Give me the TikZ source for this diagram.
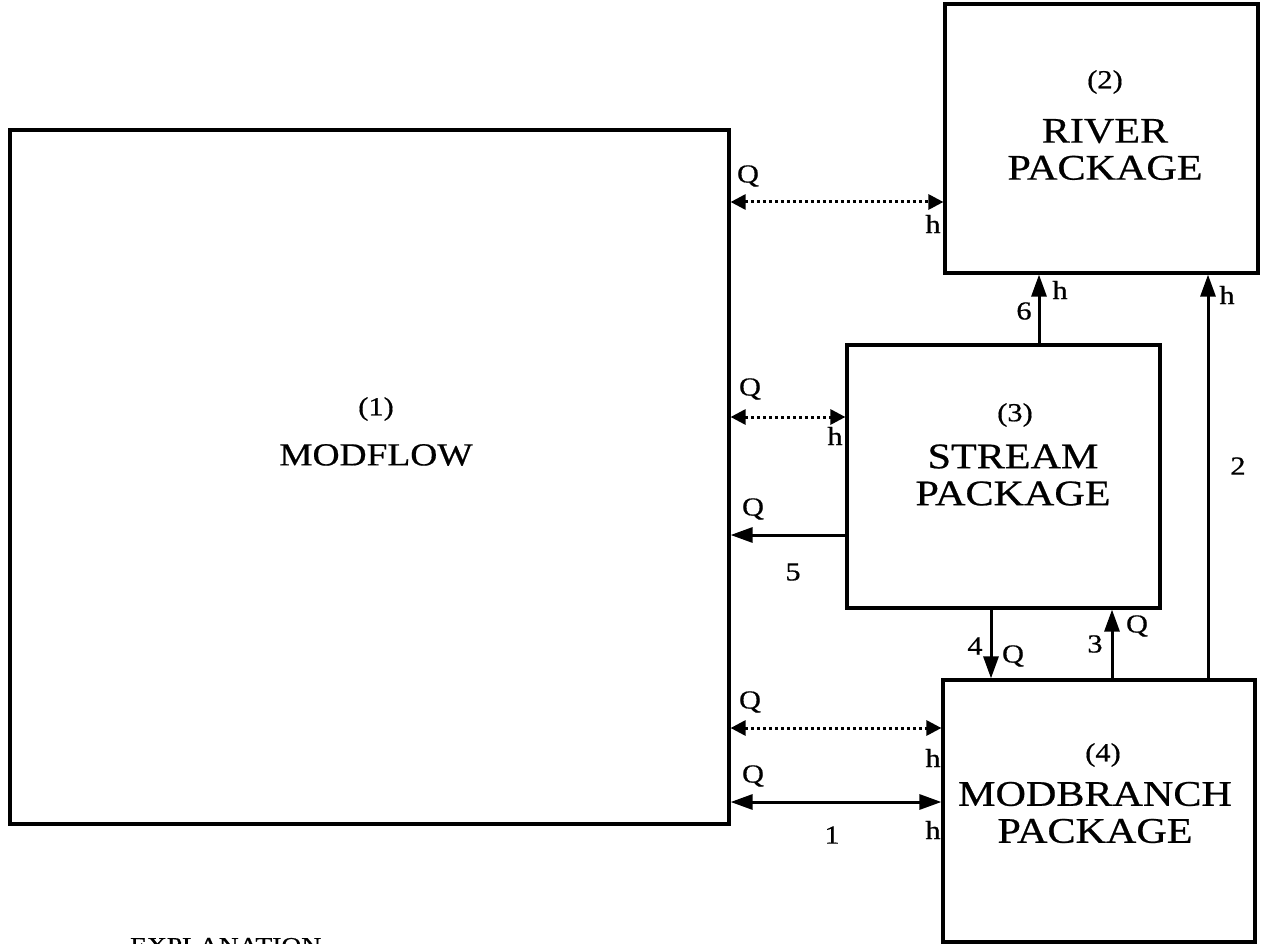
\documentclass[tikz,border=0pt]{standalone}
\usepackage{fontspec}
\setmainfont{Liberation Serif}[FakeStretch=1.17, FakeBold=0.6]
\usetikzlibrary{arrows.meta,calc}

\begin{document}
\begin{tikzpicture}[
  x=1pt, y=-1pt,
  box/.style={draw, line width=3.2pt, inner sep=0pt},
  title/.style={align=center, inner sep=0pt, font=\fontsize{36}{37}\selectfont},
  numlbl/.style={inner sep=0pt, font=\fontsize{26}{28}\selectfont},
  lbl/.style={inner sep=0pt, font=\fontsize{26}{28}\selectfont},
  flow/.style={line width=3pt, -{Triangle[length=22pt,width=15pt]}},
  swap/.style={line width=3pt, {Triangle[length=22pt,width=15pt]}-{Triangle[length=22pt,width=15pt]}},
  exch/.style={line width=3pt, dash pattern=on 3pt off 3pt,
    {Triangle[length=15pt,width=15pt]}-{Triangle[length=15pt,width=15pt]}},
]
  \useasboundingbox (0,0) rectangle (1263,944);

  % boxes
  \node[box, minimum width=719pt, minimum height=694pt] (modflow) at (369.5,477) {};
  \node[box, minimum width=313pt, minimum height=269pt] (river) at (1101.5,138.5) {};
  \node[box, minimum width=313pt, minimum height=263pt] (stream) at (1003.5,476.5) {};
  \node[box, minimum width=312pt, minimum height=262pt] (branch) at (1099,811) {};

  % box texts
  \node[numlbl] (n1) at (376,409) {(1)};
  \node[title, font=\fontsize{32}{34}\selectfont] (t1) at (376,455) {MODFLOW};
  \node[numlbl] (n2) at (1105,82) {(2)};
  \node[title] (t2) at (1105,149.5) {RIVER\\PACKAGE};
  \node[numlbl] (n3) at (1015,415) {(3)};
  \node[title] (t3) at (1013,475) {STREAM\\PACKAGE};
  \node[numlbl] (n4) at (1103,755) {(4)};
  \node[title] (t4) at (1095,812.5) {MODBRANCH\\PACKAGE};

  % exchanges with MODFLOW
  \draw[exch] (modflow.east |- 0,202) -- (river.west |- 0,202);
  \node[lbl] (q1) at (748,176) {Q};
  \node[lbl] (h1) at (933,224) {h};

  \draw[exch] (modflow.east |- 0,417) -- (stream.west |- 0,417);
  \node[lbl] (q2) at (750,389) {Q};
  \node[lbl] (h2) at (835,436) {h};

  \draw[flow] (stream.west |- 0,535) -- (modflow.east |- 0,535);
  \node[lbl] (q5) at (753,509) {Q};
  \node[lbl] (l5) at (793,572) {5};

  \draw[exch] (modflow.east |- 0,728) -- (branch.west |- 0,728);
  \node[lbl] (q3) at (750,702) {Q};
  \node[lbl] (h3) at (933,758) {h};

  \draw[swap] (modflow.east |- 0,802) -- (branch.west |- 0,802);
  \node[lbl] (q4) at (753,776) {Q};
  \node[lbl] (h4) at (933,830) {h};
  \node[lbl] (l1) at (832,835) {1};

  % links between packages
  \draw[flow] (stream.north -| 1039,0) -- (river.south -| 1039,0);
  \node[lbl] (l6) at (1024,311) {6};
  \node[lbl] (h6) at (1060,290) {h};

  \draw[flow] (branch.north -| 1208,0) -- (river.south -| 1208,0);
  \node[lbl] (h7) at (1227,295) {h};
  \node[lbl] (l2) at (1238,466) {2};

  \draw[flow] (stream.south -| 991,0) -- (branch.north -| 991,0);
  \node[lbl] (l4) at (975,646) {4};
  \node[lbl] (q6) at (1013,656) {Q};

  \draw[flow] (branch.north -| 1112,0) -- (stream.south -| 1112,0);
  \node[lbl] (l3) at (1095,644) {3};
  \node[lbl] (q7) at (1137,626) {Q};

  \node[anchor=base west, inner sep=0pt, font=\fontsize{23.5}{25}\selectfont] (expl) at (130,953.5) {EXPLANATION};
\end{tikzpicture}
\end{document}
